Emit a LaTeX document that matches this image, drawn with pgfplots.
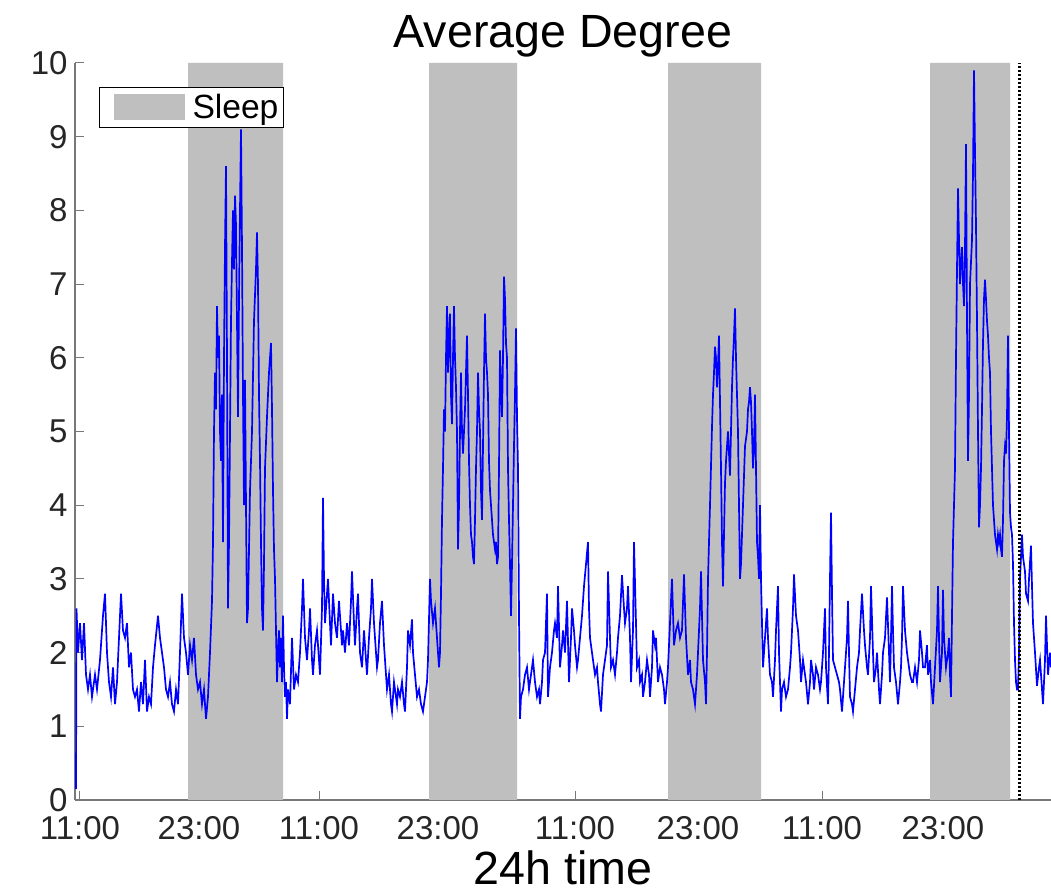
\documentclass[border=0pt]{standalone}
\usepackage{fontspec}
\setmainfont{Liberation Sans}
\usepackage{pgfplots}
\pgfplotsset{compat=1.18}
\definecolor{sleepgray}{RGB}{191,191,191}
\definecolor{axgray}{RGB}{120,120,120}
\definecolor{txt}{RGB}{38,38,38}
\begin{document}
\begin{tikzpicture}
\begin{axis}[
 at={(0,0)}, anchor=south west,
 scale only axis, width=488pt, height=368.5pt,
 xmin=75, xmax=1051, ymin=0, ymax=10,
 axis x line=bottom, axis y line=left,
 axis line style={-, draw=axgray, line width=0.6pt},
 xtick={80,199,319,438,575,698,822,943},
 xticklabels={11:00,23:00,11:00,23:00,11:00,23:00,11:00,23:00},
 ytick={0,1,...,10},
 tick align=inside, major tick length=4.5pt,
 tick style={draw=axgray, line width=0.5pt},
 /pgf/number format/assume math mode=true,
 ticklabel style={font=\fontsize{16.5}{19.8}\selectfont, text=txt},
 xticklabel style={anchor=base, yshift=-20pt},
 yticklabel style={anchor=east, inner sep=0pt, xshift=-3.5pt},
 title={Average Degree},
 title style={at={(axis description cs:0.5,1)}, anchor=base, yshift=1.5pt, font=\fontsize{23.3}{28}\selectfont, text=black},
 xlabel={24h time},
 xlabel style={at={(axis description cs:0.5,0)}, anchor=base, yshift=-42.5pt, font=\fontsize{23.3}{28}\selectfont, text=black},
 legend style={at={(axis description cs:0.0246,0.967)}, anchor=north west, draw=black, line width=0.5pt, fill=white, inner xsep=2.75pt, inner ysep=2pt, nodes={inner xsep=0pt, inner ysep=1pt}, font=\fontsize{16.8}{20}\selectfont, text=black},
 clip=true,
]
\addplot[fill=sleepgray, draw=none, legend image code/.code={\path (0pt,0pt); \fill[sleepgray] (4.25pt,-6.5pt) rectangle (39.75pt,6.5pt); \path (43.75pt,0pt);}] coordinates {(188,0)(188,10)(283,10)(283,0)} \closedcycle;
\addlegendentry{Sleep}
\addplot[fill=sleepgray, draw=none, forget plot] coordinates {(429,0)(429,10)(517,10)(517,0)} \closedcycle;
\addplot[fill=sleepgray, draw=none, forget plot] coordinates {(668,0)(668,10)(761,10)(761,0)} \closedcycle;
\addplot[fill=sleepgray, draw=none, forget plot] coordinates {(930,0)(930,10)(1010,10)(1010,0)} \closedcycle;
\addplot[blue, line width=0.85pt, forget plot] coordinates {
(76,0.15)(76.5,2.6)(78,2.0)(80,2.4)(82,1.9)(84,2.4)(86,1.7)(88,1.5)(90,1.7)(92,1.4)(95,1.7)(97,1.5)(100,1.9)(103,2.5)(105,2.8)(107,2.0)(109,1.6)(111,1.4)(113,1.8)(115,1.3)(117,1.6)(119,2.2)(121,2.8)(123,2.3)(125,2.2)(127,2.4)(129,1.8)(131,2.0)(133,1.5)(135,1.4)(137,1.5)(139,1.2)(141,1.6)(143,1.3)(145,1.9)(147,1.2)(149,1.4)(151,1.3)(153,1.8)(155,2.1)(158,2.5)(160,2.2)(162,2.0)(164,1.8)(166,1.5)(168,1.4)(170,1.6)(172,1.3)(174,1.2)(176,1.5)(178,1.3)(180,2.0)(182,2.8)(184,2.2)(186,2.0)(188,1.7)(190,2.1)(192,1.9)(194,2.2)(196,1.7)(198,1.5)(200,1.6)(202,1.3)(204,1.5)(206,1.1)(208,1.4)(210,2.0)(212,2.7)(213,3.5)(214,5.0)(215,5.8)(216,5.3)(217,6.7)(218,6.0)(219,6.3)(220,5.0)(221,4.6)(222,5.5)(223,3.5)(224,6.0)(225,7.5)(226,8.6)(227,6.0)(228,2.6)(229,3.5)(230,5.0)(231,6.5)(232,7.3)(233,8.0)(234,7.2)(235,8.2)(236,7.8)(237,6.5)(238,5.2)(239,6.8)(240,8.0)(241,9.1)(242,7.5)(243,5.5)(244,4.0)(245,5.7)(246,4.0)(247,2.4)(248,2.6)(250,4.2)(252,5.0)(254,6.5)(256,7.2)(257,7.7)(258,7.0)(259,5.5)(260,4.6)(261,3.5)(262,2.6)(263,2.3)(264,3.2)(265,4.5)(267,5.2)(269,5.8)(271,6.2)(272,5.3)(273,4.2)(274,3.4)(275,3.0)(276,2.3)(277,1.6)(278,2.0)(279,2.3)(280,1.8)(281,2.2)(282,1.6)(283,2.5)(284,1.8)(285,1.4)(286,1.6)(287,1.1)(288,1.5)(290,1.3)(292,2.2)(294,1.5)(296,1.7)(298,1.6)(300,2.0)(302,2.6)(303,3.0)(305,2.2)(307,1.9)(309,2.3)(310,2.6)(312,1.9)(313,1.7)(315,2.1)(317,2.3)(319,1.9)(320,1.7)(322,2.6)(323,4.1)(324,3.0)(325,2.4)(327,2.8)(328,3.0)(330,2.4)(331,2.1)(333,2.8)(335,2.4)(337,2.2)(339,2.7)(340,2.5)(342,2.1)(343,2.3)(345,2.0)(347,2.4)(349,2.1)(351,2.7)(352,3.1)(354,2.4)(355,2.1)(357,2.6)(358,2.8)(360,2.0)(362,1.8)(364,2.3)(365,2.1)(367,1.7)(369,2.2)(371,2.6)(372,3.0)(374,2.4)(375,2.2)(377,1.8)(378,1.9)(380,2.4)(382,2.7)(384,2.1)(385,1.9)(387,1.5)(389,1.7)(391,1.3)(392,1.2)(394,1.6)(395,1.5)(397,1.3)(398,1.5)(400,1.4)(402,1.6)(404,1.3)(405,1.2)(407,1.8)(408,2.3)(410,2.1)(412,2.45)(413,2.0)(415,1.7)(417,1.4)(419,1.5)(421,1.3)(423,1.2)(425,1.4)(427,1.6)(428,1.9)(430,3.0)(431,2.7)(433,2.4)(435,2.6)(437,2.2)(439,1.8)(440,2.0)(441,2.8)(442,3.8)(443,4.5)(444,5.3)(445,5.0)(446,6.0)(447,6.7)(448,5.8)(449,6.3)(450,6.6)(451,5.5)(452,5.1)(453,6.0)(454,6.7)(455,6.0)(456,5.6)(457,5.0)(458,3.4)(459,4.0)(460,5.0)(461,5.8)(462,5.0)(463,4.7)(464,5.0)(465,5.3)(466,5.8)(467,6.3)(468,5.5)(469,4.6)(470,4.0)(471,3.6)(472,3.5)(473,3.3)(474,3.2)(475,3.8)(476,4.5)(477,5.0)(478,5.8)(479,5.3)(480,5.0)(481,4.2)(482,3.8)(483,4.8)(484,5.8)(485,6.6)(486,6.0)(487,5.8)(488,5.5)(489,4.6)(490,4.2)(491,4.0)(492,3.8)(493,3.6)(494,3.5)(495,3.4)(496,3.5)(497,3.2)(498,3.3)(499,4.5)(500,6.1)(501,5.6)(502,5.2)(503,6.0)(504,7.1)(505,6.8)(506,6.2)(507,6.0)(508,4.5)(509,3.8)(510,3.2)(511,2.5)(512,3.2)(513,4.0)(514,4.8)(515,5.5)(516,6.4)(517,5.2)(518,4.5)(519,2.5)(520,1.1)(521,1.4)(523,1.5)(525,1.7)(527,1.8)(529,1.5)(530,1.6)(532,1.8)(533,1.9)(535,1.6)(537,1.4)(539,1.5)(540,1.3)(542,1.6)(543,1.9)(545,2.0)(547,2.8)(548,1.4)(550,1.8)(552,2.0)(554,2.3)(555,2.4)(557,2.2)(558,2.9)(560,1.8)(562,2.1)(563,2.3)(565,2.0)(567,2.7)(569,1.6)(571,2.2)(572,2.6)(574,2.3)(575,2.1)(577,1.8)(578,1.9)(580,2.2)(582,2.5)(584,2.9)(586,3.2)(588,3.5)(589,2.6)(590,2.2)(592,2.0)(593,1.9)(595,1.7)(597,1.8)(598,1.6)(600,1.3)(601,1.2)(603,1.7)(605,1.9)(607,2.1)(608,3.1)(610,2.2)(611,1.8)(613,1.9)(615,1.7)(617,2.0)(618,2.2)(620,2.5)(622,3.05)(624,2.6)(625,2.4)(627,2.6)(628,2.9)(630,2.2)(631,1.6)(633,2.3)(634,3.5)(636,2.4)(637,1.8)(639,1.9)(640,1.6)(642,1.7)(643,1.4)(645,1.6)(647,1.9)(649,1.7)(650,1.4)(652,1.8)(653,2.3)(655,2.1)(656,2.2)(658,1.6)(660,1.8)(662,1.7)(664,1.5)(665,1.3)(667,1.6)(668,1.8)(670,2.4)(672,3.0)(674,2.1)(676,2.3)(678,2.4)(680,2.2)(682,2.3)(684,3.06)(686,2.2)(688,1.7)(690,1.9)(691,1.6)(693,1.5)(695,1.3)(697,1.7)(698,2.0)(700,2.6)(701,3.1)(703,1.9)(705,1.6)(706,1.3)(707,2.0)(708,3.0)(710,4.0)(712,5.06)(713,5.5)(714,5.8)(715,6.15)(716,6.0)(717,5.6)(718,5.9)(719,6.3)(720,5.4)(721,4.5)(722,3.5)(723,2.9)(724,3.6)(725,4.3)(726,4.6)(727,4.8)(728,5.0)(729,4.7)(730,4.4)(731,5.0)(732,5.6)(733,6.0)(734,6.3)(735,6.67)(736,6.0)(737,5.5)(738,5.0)(739,4.0)(740,3.0)(741,3.2)(742,3.6)(743,4.0)(744,4.4)(745,4.8)(747,5.0)(748,5.3)(749,5.4)(750,5.6)(751,5.4)(752,5.0)(753,4.5)(754,4.8)(755,5.5)(756,4.5)(757,3.5)(758,3.3)(759,3.0)(760,4.0)(761,3.0)(762,2.4)(763,1.8)(765,2.2)(767,2.6)(768,2.2)(770,1.7)(772,1.6)(773,1.4)(775,1.9)(776,2.3)(778,2.9)(779,2.0)(781,1.2)(782,1.5)(784,1.6)(786,1.4)(788,1.5)(790,1.8)(791,2.0)(793,2.6)(794,3.06)(796,2.5)(798,2.3)(800,1.9)(801,1.6)(803,1.9)(804,1.8)(806,1.6)(808,1.3)(810,1.6)(811,1.9)(813,1.7)(814,1.5)(816,1.8)(818,1.7)(820,1.5)(821,1.6)(823,2.0)(825,2.6)(826,1.8)(828,1.3)(829,2.0)(830,3.0)(831,3.9)(832,2.8)(833,1.9)(835,1.8)(837,1.7)(839,1.6)(840,1.5)(842,1.2)(844,1.6)(845,1.8)(847,2.2)(848,2.7)(849,2.0)(850,1.4)(852,1.3)(853,1.2)(855,1.5)(857,1.8)(859,2.0)(860,2.3)(862,2.8)(864,2.3)(865,2.1)(867,1.8)(868,1.7)(870,2.2)(871,2.9)(873,2.0)(874,1.6)(876,1.8)(877,2.0)(879,1.5)(880,1.3)(882,1.7)(883,2.0)(885,2.2)(887,2.75)(889,2.0)(890,1.6)(891,2.2)(892,2.9)(893,2.3)(894,1.8)(896,1.6)(898,1.3)(900,1.6)(901,1.8)(902,2.2)(903,2.9)(905,2.3)(907,2.0)(909,1.8)(910,1.7)(912,1.6)(913,1.6)(915,1.8)(917,1.6)(919,1.9)(920,2.3)(922,2.0)(923,1.8)(925,1.8)(927,2.1)(928,1.7)(930,1.9)(931,1.6)(933,1.3)(935,1.8)(937,2.3)(938,2.9)(939,2.2)(940,1.6)(942,2.0)(943,2.85)(944,2.2)(946,1.8)(948,2.0)(949,2.2)(950,1.7)(951,1.4)(952,2.5)(953,3.5)(954,4.0)(955,4.5)(956,6.0)(957,7.2)(958,8.3)(959,7.6)(960,7.0)(961,7.3)(962,7.5)(963,7.0)(964,6.7)(965,7.5)(966,8.9)(967,6.5)(968,4.6)(969,5.5)(970,7.0)(971,7.3)(972,7.6)(973,8.5)(974,9.9)(975,8.8)(976,7.8)(977,6.5)(978,5.0)(979,3.7)(980,4.0)(981,4.5)(982,5.3)(983,6.2)(984,6.8)(985,7.06)(986,6.8)(987,6.5)(988,6.3)(989,6.0)(990,5.8)(991,5.0)(992,4.5)(993,4.0)(994,3.8)(995,3.6)(996,3.5)(997,3.4)(998,3.6)(999,3.5)(1000,3.6)(1001,3.4)(1002,3.3)(1003,3.8)(1004,4.6)(1005,4.8)(1006,4.7)(1007,5.2)(1008,6.3)(1009,5.0)(1010,3.9)(1011,3.7)(1012,3.6)(1013,3.2)(1014,2.4)(1015,1.9)(1016,1.6)(1017,1.5)(1018,1.5)(1019,2.0)(1020,3.0)(1021,3.3)(1022,3.6)(1023,3.3)(1025,3.1)(1026,2.8)(1028,2.7)(1029,3.0)(1031,3.45)(1032,2.9)(1033,2.4)(1035,2.0)(1037,1.55)(1039,1.8)(1040,1.9)(1042,1.5)(1043,1.3)(1045,1.9)(1046,2.5)(1047,2.1)(1048,1.7)(1050,2.0)(1051,1.8)
};
\addplot[black, line width=1.5pt, dash pattern=on 1.2pt off 0.8pt, forget plot] coordinates {(1019,0)(1019,10)};
\end{axis}
\pgfresetboundingbox
\path[use as bounding box] (-37.5pt,-46pt) rectangle (488pt,400pt);
\end{tikzpicture}
\end{document}
